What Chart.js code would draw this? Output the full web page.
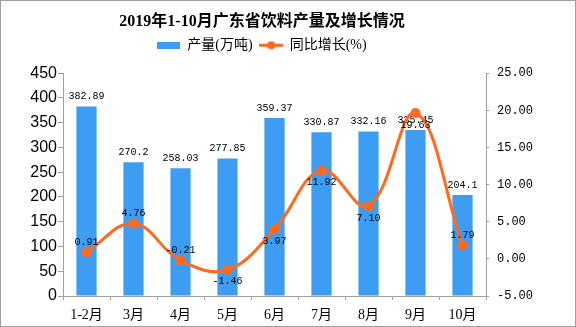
<!DOCTYPE html>
<html>
<head>
<meta charset="utf-8">
<script src="https://cdn.jsdelivr.net/npm/chart.js@4.4.1/dist/chart.umd.min.js"></script>
<style>
  html, body { margin: 0; padding: 0; background: #fff; }
  #wrap { width: 574px; height: 325px; border: 1px solid #a0a0a0; }
</style>
</head>
<body>
<div id="wrap"><canvas id="chart" width="574" height="325"></canvas></div>
<script>
const months = ["1-2月", "3月", "4月", "5月", "6月", "7月", "8月", "9月", "10月"];
const output = [382.89, 270.2, 258.03, 277.85, 359.37, 330.87, 332.16, 335.45, 204.1];
const growth = [0.91, 4.76, -0.21, -1.46, 3.97, 11.92, 7.10, 19.63, 1.79];
// where each growth label sits relative to its point
const growthLabelSide = ["above", "above", "above", "below", "below", "below", "below", "below", "above"];
const outputAxis = { min: 0, max: 450, step: 50 };
const growthAxis = { min: -5, max: 25, step: 5 };

const BLUE = "#3d9df2";
const ORANGE = "#ff6a1f";
const AXIS = "#a0a0a0";

// small legend icons
function makeIcon(w, h, draw) {
  const c = document.createElement("canvas");
  c.width = w; c.height = h;
  draw(c.getContext("2d"), w, h);
  return c;
}
const barIcon = makeIcon(23, 7, (ctx, w, h) => { ctx.fillStyle = BLUE; ctx.fillRect(0, 0, w, h); });
const lineIcon = makeIcon(24, 9, (ctx, w, h) => {
  ctx.strokeStyle = ORANGE; ctx.lineWidth = 3;
  ctx.beginPath(); ctx.moveTo(0, h / 2); ctx.lineTo(w, h / 2); ctx.stroke();
  ctx.fillStyle = ORANGE;
  ctx.beginPath(); ctx.arc(w / 2, h / 2, 4, 0, Math.PI * 2); ctx.fill();
});
const legendIcons = [barIcon, lineIcon];

// legend keeps its own padding for placement, but takes a fixed height
const legendHeight = {
  id: "legendHeight",
  afterInit(chart) {
    const lg = chart.legend;
    const fit = lg.fit;
    lg.fit = function () { fit.call(this); this.height = 42; };
  }
};

const valueLabels = {
  id: "valueLabels",
  afterDatasetDraw(chart, args) {
    if (args.index !== 0) return;
    const ctx = chart.ctx;
    ctx.save();
    ctx.font = "10px 'Liberation Mono'";
    ctx.fillStyle = "#000";
    ctx.textAlign = "center";
    ctx.textBaseline = "bottom";
    args.meta.data.forEach((bar, i) => {
      ctx.fillText(String(output[i]), bar.x, bar.y - 5);
    });
    ctx.restore();
  },
  afterDatasetsDraw(chart) {
    const ctx = chart.ctx;
    const meta = chart.getDatasetMeta(1);
    ctx.save();
    ctx.font = "10px 'Liberation Mono'";
    ctx.fillStyle = "#000";
    ctx.textAlign = "center";
    ctx.textBaseline = "middle";
    meta.data.forEach((pt, i) => {
      const dy = growthLabelSide[i] === "above" ? -10 : 12;
      ctx.fillText(growth[i].toFixed(2), pt.x, pt.y + dy);
    });
    ctx.restore();
  }
};

new Chart(document.getElementById("chart"), {
  data: {
    labels: months,
    datasets: [
      {
        type: "bar",
        label: "产量(万吨)",
        data: output,
        backgroundColor: BLUE,
        yAxisID: "y",
        order: 1,
        categoryPercentage: 1,
        barPercentage: 0.43
      },
      {
        type: "line",
        label: "同比增长(%)",
        data: growth,
        borderColor: ORANGE,
        backgroundColor: ORANGE,
        borderWidth: 3,
        pointRadius: 5,
        pointBackgroundColor: ORANGE,
        pointBorderWidth: 0,
        tension: 0.4,
        yAxisID: "y1",
        order: 0
      }
    ]
  },
  options: {
    responsive: false,
    animation: false,
    layout: { padding: { left: 0, right: 52, top: 0, bottom: 0 } },
    plugins: {
      tooltip: { enabled: false },
      title: {
        display: true,
        text: "2019年1-10月广东省饮料产量及增长情况",
        color: "#000",
        font: { family: "'Liberation Serif', 'Noto Sans CJK SC'", size: 16, weight: "bold" },
        padding: { top: 11, bottom: 0 }
      },
      legend: {
        display: true,
        labels: {
          usePointStyle: true,
          pointStyleWidth: 23,
          boxHeight: 9,
          padding: 7,
          color: "#000",
          font: { family: "'Liberation Serif', 'Noto Sans CJK SC'", size: 14 },
          generateLabels: chart => chart.data.datasets.map((ds, i) => ({
            text: ds.label,
            pointStyle: legendIcons[i],
            fillStyle: ds.backgroundColor,
            strokeStyle: ds.backgroundColor,
            lineWidth: 0,
            hidden: false,
            datasetIndex: i,
            fontColor: "#000"
          }))
        }
      }
    },
    scales: {
      x: {
        offset: true,
        afterFit: s => { s.height = 30; },
        grid: { display: true, offset: true, drawOnChartArea: false, tickLength: 4, color: AXIS },
        border: { display: true, color: AXIS },
        ticks: {
          color: "#000",
          padding: 7,
          maxRotation: 0,
          font: { family: "'Liberation Serif', 'Noto Sans CJK SC'", size: 14 }
        }
      },
      y: {
        position: "left",
        min: outputAxis.min,
        max: outputAxis.max,
        afterFit: s => { s.width = 62; },
        grid: { display: true, drawOnChartArea: false, tickLength: 5, color: AXIS },
        border: { display: true, color: AXIS },
        ticks: {
          stepSize: outputAxis.step,
          color: "#000",
          padding: 1,
          font: { family: "'Liberation Sans'", size: 16 }
        }
      },
      y1: {
        position: "right",
        min: growthAxis.min,
        max: growthAxis.max,
        afterFit: s => {
          s.width = 37;
          s._computeLabelArea = () => undefined; // let labels run past the narrow box
        },
        grid: { display: true, drawOnChartArea: false, tickLength: 3, color: AXIS },
        border: { display: true, color: AXIS },
        ticks: {
          stepSize: growthAxis.step,
          color: "#000",
          padding: 8,
          callback: v => Number(v).toFixed(2),
          font: { family: "'Liberation Mono'", size: 12 }
        }
      }
    }
  },
  plugins: [legendHeight, valueLabels]
});
</script>
</body>
</html>
